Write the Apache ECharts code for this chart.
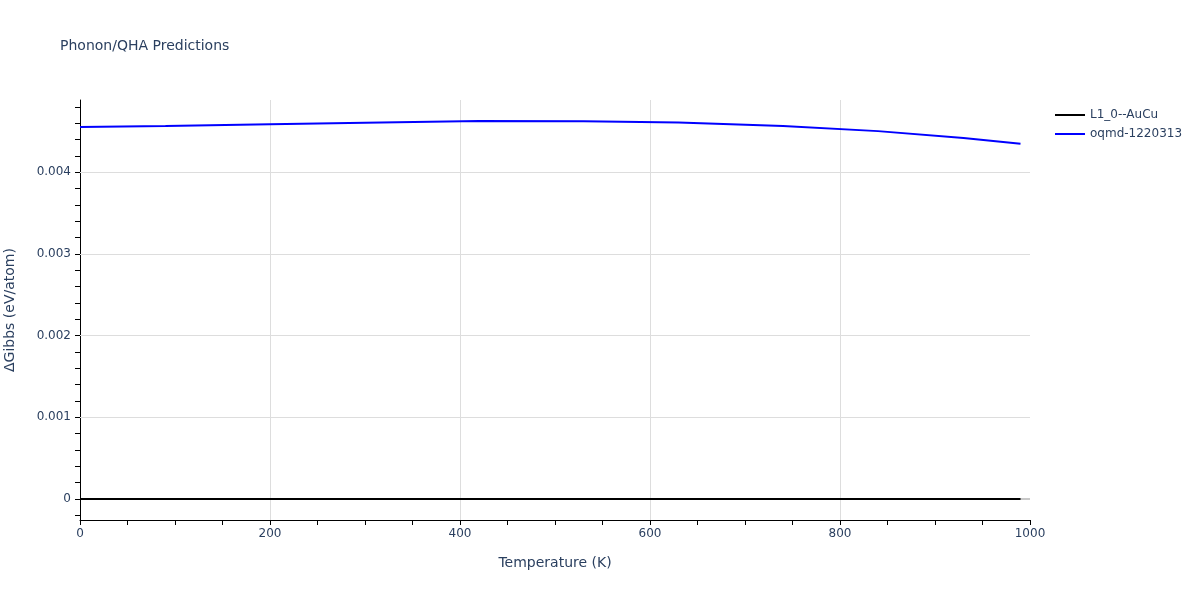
<!DOCTYPE html>
<html>
<head>
<meta charset="utf-8">
<script src="https://cdn.jsdelivr.net/npm/echarts@6.0.0/dist/echarts.min.js"></script>
<style>
html,body{margin:0;padding:0;background:#fff;}
#chart{width:1200px;height:600px;}
</style>
</head>
<body>
<div id="chart"></div>
<script>
// ---- data ----
const temperatures = [0, 90, 200, 300, 420, 530, 630, 740, 840, 930, 990];
const refValues    = [0, 0, 0, 0, 0, 0, 0, 0, 0, 0, 0];
const oqmdValues   = [0.004555, 0.004565, 0.004586, 0.004605, 0.004627, 0.004625, 0.004608, 0.004565, 0.004503, 0.004420, 0.004349];
const seriesNames  = ['L1_0--AuCu', 'oqmd-1220313'];
const yTickValues  = [-0.0002, 0, 0.0002, 0.0004, 0.0006, 0.0008, 0.001, 0.0012, 0.0014, 0.0016, 0.0018, 0.002,
                      0.0022, 0.0024, 0.0026, 0.0028, 0.003, 0.0032, 0.0034, 0.0036, 0.0038, 0.004,
                      0.0042, 0.0044, 0.0046, 0.0048];
const yLabelValues = [0, 0.001, 0.002, 0.003, 0.004];
const yGridValues  = [0.001, 0.002, 0.003, 0.004];
const yMin = -0.000257, yMax = 0.004884;

const textColor = '#2a3f5f';
const font = 'DejaVu Sans, Verdana, sans-serif';

const chart = echarts.init(document.getElementById('chart'), null, {renderer: 'canvas'});
chart.setOption({
  animation: false,
  backgroundColor: '#fff',
  textStyle: {fontFamily: font, color: textColor},
  title: {
    text: 'Phonon/QHA Predictions',
    left: 60, top: 39, padding: 0,
    textStyle: {fontFamily: font, fontSize: 14, fontWeight: 'normal', color: textColor}
  },
  legend: {
    orient: 'vertical',
    left: 1055, top: 108,
    padding: 0,
    icon: 'rect',
    itemWidth: 30, itemHeight: 2, itemGap: 5,
    data: seriesNames,
    textStyle: {fontFamily: font, fontSize: 12, color: textColor, lineHeight: 14}
  },
  grid: {left: 80, right: 170, top: 100, bottom: 80, containLabel: false, outerBoundsMode: 'none'},
  xAxis: {
    type: 'value', min: 0, max: 1000, interval: 200,
    name: 'Temperature (K)', nameLocation: 'middle', nameGap: 36,
    nameTextStyle: {fontFamily: font, fontSize: 14, color: textColor},
    axisLine: {show: true, onZero: false, lineStyle: {color: '#000', width: 1}},
    axisTick: {show: true, inside: false, length: 5, lineStyle: {color: '#000'}},
    minorTick: {show: true, splitNumber: 4, length: 5, lineStyle: {color: '#000'}},
    axisLabel: {margin: 8, fontSize: 12, color: textColor, fontFamily: font, formatter: v => String(v)},
    splitLine: {show: true, showMinLine: false, showMaxLine: false, lineStyle: {color: '#dddddd', width: 1}}
  },
  yAxis: {
    type: 'value', min: yMin, max: yMax,
    name: 'ΔGibbs (eV/atom)', nameLocation: 'middle', nameGap: 63,
    nameTextStyle: {fontFamily: font, fontSize: 14, color: textColor},
    axisLine: {show: true, onZero: false, lineStyle: {color: '#000', width: 1}},
    axisTick: {show: true, inside: false, length: 5, customValues: yTickValues, lineStyle: {color: '#000'}},
    axisLabel: {
      margin: 9, fontSize: 12, color: textColor, fontFamily: font,
      customValues: yLabelValues,
      formatter: v => (Math.abs(v) < 1e-12 ? '0' : v.toFixed(3))
    },
    splitLine: {show: false}
  },
  series: [
    {
      name: 'gridlines', type: 'line', data: [], z: 1, silent: true,
      markLine: {
        silent: true, symbol: ['none', 'none'], animation: false, z: 1,
        precision: 8,
        label: {show: false},
        lineStyle: {color: '#dddddd', width: 1, type: 'solid'},
        emphasis: {disabled: true},
        data: yGridValues.map(v => ({yAxis: v})).concat([{yAxis: 0, lineStyle: {color: '#c8c8c8', width: 2, type: 'solid'}}])
      }
    },
    {
      name: seriesNames[0], type: 'line', z: 3,
      data: temperatures.map((t, i) => [t, refValues[i]]),
      showSymbol: false, symbol: 'none',
      lineStyle: {color: '#000', width: 2}, itemStyle: {color: '#000'}
    },
    {
      name: seriesNames[1], type: 'line', z: 3,
      data: temperatures.map((t, i) => [t, oqmdValues[i]]),
      showSymbol: false, symbol: 'none',
      lineStyle: {color: '#0000ff', width: 2}, itemStyle: {color: '#0000ff'}
    }
  ]
});
</script>
</body>
</html>
